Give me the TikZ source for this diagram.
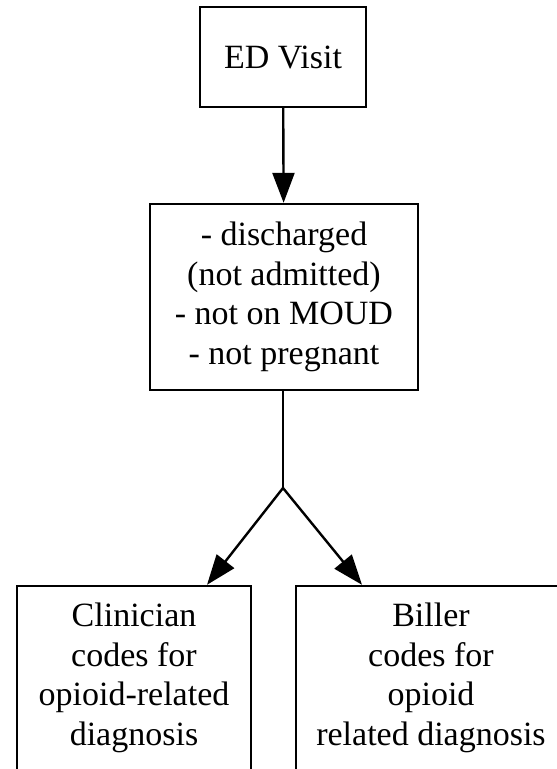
\documentclass[tikz,border=0pt]{standalone}
\usepackage{fontspec}
\setmainfont{Liberation Serif}
\newfontfamily\tnrfont{Liberation Serif}
\usetikzlibrary{arrows.meta}
\begin{document}
\begin{tikzpicture}[x=1pt,y=-1pt,
  box/.style={draw=black, line width=2.4pt, align=center, inner sep=0pt,
    font=\tnrfont\fontsize{34}{39.5}\selectfont},
  arr/.style={line width=2.4pt, draw=black, -{Triangle[length=30pt,width=22pt]}},
  lin/.style={line width=2.4pt, draw=black}]
\clip (0,0) rectangle (557,769);
\fill[white] (0,0) rectangle (557,769);
\node[box, minimum width=166pt, minimum height=100pt] (ed) at (283,57) {ED Visit};
\node[box, minimum width=268pt, minimum height=186pt] (crit) at (284,297)
  {- discharged\\(not admitted)\\- not on MOUD\\- not pregnant};
\node[box, minimum width=234pt, minimum height=184pt] (clin) at (134,678)
  {Clinician\\codes for\\opioid-related\\diagnosis};
\node[box, minimum width=270pt, minimum height=184pt] (bill) at (431,678)
  {Biller\\codes for\\opioid\\related diagnosis};
\coordinate (j) at (283,488);
\coordinate (lt) at (207,586);
\coordinate (rt) at (362,586);
\draw[arr] (ed) -- (crit);
\draw[lin] (crit.south -| j) -- (j);
\draw[arr] (j) -- (clin.north -| lt);
\draw[arr] (j) -- (bill.north -| rt);
\end{tikzpicture}
\end{document}
